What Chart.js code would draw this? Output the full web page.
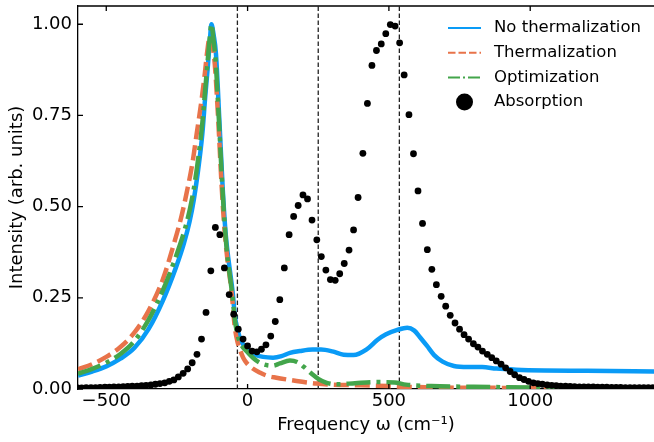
<!DOCTYPE html>
<html>
<head>
<meta charset="utf-8">
<script src="https://cdn.jsdelivr.net/npm/chart.js@4.4.0/dist/chart.umd.min.js"></script>
<style>
html, body { margin: 0; padding: 0; background: #fff; overflow: hidden; }
</style>
</head>
<body>
<canvas id="myChart" width="654" height="442"></canvas>
<script>
// tick labels
const xTicks = [-500, 0, 500, 1000];
const yTicks = [0, 0.25, 0.5, 0.75, 1.0];

// dashed guide lines (cm-1)
const guideLines = [-36, 250, 537];

// No thermalization
const noThermFreq = [-600, -550, -500, -450, -400, -350, -300, -255, -225, -205, -190, -175, -160, -150, -140, -133, -128,
  -120, -112, -100, -88, -78, -70, -60, -52, -45, -36, -25, -12, 0, 15, 30, 55, 90, 120, 150, 185, 230, 260, 300,
  340, 375, 420, 460, 490, 530, 565, 590, 610, 635, 660, 690, 730, 780, 830, 880, 950, 1050, 1200, 1440];
const noThermInt = [0.037, 0.048, 0.062, 0.083, 0.113, 0.165, 0.242, 0.33, 0.40, 0.46, 0.52, 0.60, 0.70, 0.80, 0.89, 0.96, 1.0,
  0.97, 0.92, 0.74, 0.55, 0.43, 0.37, 0.31, 0.26, 0.20, 0.165, 0.135, 0.118, 0.108, 0.099, 0.093, 0.088, 0.086, 0.090, 0.099, 0.104, 0.108, 0.108, 0.103,
  0.094, 0.093, 0.108, 0.135, 0.150, 0.162, 0.168, 0.160, 0.142, 0.118, 0.093, 0.075, 0.063, 0.060, 0.060, 0.056, 0.053, 0.051, 0.050, 0.048];

// Thermalization
const thermFreq = [-600, -550, -500, -450, -400, -350, -300, -260, -235, -215, -195, -180, -165, -152, -142, -134,
  -126, -116, -104, -92, -82, -72, -62, -54, -46, -36, -28, -15, -4, 15, 43, 70, 102, 140, 173, 210, 244, 300,
  400, 500, 560, 700, 900, 1100, 1440];
const thermInt = [0.054, 0.068, 0.088, 0.115, 0.155, 0.215, 0.30, 0.40, 0.47, 0.54, 0.62, 0.70, 0.78, 0.86, 0.93, 0.965,
  0.95, 0.89, 0.74, 0.56, 0.44, 0.36, 0.30, 0.245, 0.175, 0.13, 0.11, 0.085, 0.072, 0.058, 0.045, 0.036, 0.031, 0.026, 0.022, 0.018, 0.015, 0.012,
  0.010, 0.008, 0.006, 0.004, 0.003, 0.002, 0.001];

// Optimization
const optFreq = [-600, -550, -500, -450, -400, -350, -300, -255, -225, -205, -190, -175, -160, -150, -140, -133, -128,
  -121, -113, -101, -89, -79, -71, -61, -53, -45, -36, -25, -4, 20, 43, 70, 90, 114, 150, 175, 200, 225, 250, 280,
  320, 380, 450, 520, 560, 650, 800, 1000, 1200, 1440];
const optInt = [0.042, 0.055, 0.072, 0.096, 0.132, 0.19, 0.27, 0.36, 0.43, 0.49, 0.55, 0.63, 0.73, 0.82, 0.91, 0.97, 1.0,
  0.96, 0.90, 0.73, 0.55, 0.43, 0.36, 0.30, 0.25, 0.19, 0.15, 0.125, 0.104, 0.085, 0.072, 0.065, 0.064, 0.070, 0.078, 0.074, 0.060, 0.043, 0.028, 0.017,
  0.013, 0.016, 0.019, 0.018, 0.012, 0.008, 0.006, 0.004, 0.002, 0.001];

// Absorption
const absFreq = [-603, -587, -571, -554, -538, -522, -505, -489, -473, -456, -440, -424, -408, -391, -375, -359, -342, -326, -310, -293,
  -277, -261, -245, -228, -212, -196, -179, -163, -147, -130, -114, -98, -82, -65, -49, -33, -16,
  0, 16, 33, 49, 65, 82, 98, 114, 130, 147, 163, 179, 196, 212, 228, 245, 261, 277, 293, 310, 326, 342, 359, 375,
  391, 408, 424, 440, 456, 473, 489, 505, 522, 538, 554, 571, 587, 603, 619, 636, 652, 668, 685, 701, 717, 734,
  750, 766, 782, 799, 815, 831, 848, 864, 880, 897, 913, 929, 945, 962, 978, 994, 1011, 1027, 1043, 1060, 1076,
  1092, 1108, 1125, 1141, 1157, 1174, 1190, 1206, 1223, 1239, 1255, 1271, 1288, 1304, 1320, 1337, 1353, 1369,
  1386, 1402, 1418, 1434];
const absInt = [0.003, 0.003, 0.0035, 0.004, 0.004, 0.0045, 0.005, 0.005, 0.0055, 0.006, 0.0065, 0.007, 0.0075, 0.008, 0.009, 0.010, 0.011, 0.013, 0.015, 0.017,
  0.021, 0.025, 0.033, 0.043, 0.055, 0.072, 0.095, 0.137, 0.210, 0.324, 0.443, 0.423, 0.332, 0.259, 0.205, 0.164, 0.137,
  0.118, 0.104, 0.102, 0.109, 0.121, 0.145, 0.185, 0.245, 0.332, 0.423, 0.473, 0.503, 0.532, 0.521, 0.463, 0.409, 0.363, 0.326, 0.300, 0.298, 0.316, 0.344, 0.381, 0.436,
  0.525, 0.646, 0.783, 0.887, 0.928, 0.946, 0.974, 0.999, 0.995, 0.949, 0.861, 0.752, 0.645, 0.543, 0.454, 0.382, 0.328, 0.286, 0.254, 0.227, 0.202, 0.181,
  0.164, 0.149, 0.137, 0.124, 0.115, 0.104, 0.095, 0.086, 0.077, 0.068, 0.058, 0.048, 0.039, 0.031, 0.026, 0.021, 0.017, 0.015, 0.013, 0.011,
  0.010, 0.009, 0.008, 0.0075, 0.007, 0.0065, 0.006, 0.006, 0.0055, 0.0055, 0.005, 0.005, 0.005, 0.0045, 0.0045, 0.0045, 0.004, 0.004,
  0.004, 0.004, 0.0035, 0.0035, 0.0035];

Chart.defaults.font.family = "DejaVu Sans";
Chart.defaults.color = "#000";

function toPoints(xs, ys){
    let pts = [];
    for (let i = 0; i < xs.length; i++){
        pts.push({x: xs[i], y: ys[i]});
    }
    return pts;
}

let datasets = [
    {
        label: 'No thermalization',
        data: toPoints(noThermFreq, noThermInt),
        borderColor: '#0A9BF6',
        borderWidth: 4.5,
        pointRadius: 0,
        cubicInterpolationMode: 'monotone',
        order: 3,
    },
    {
        label: 'Thermalization',
        data: toPoints(thermFreq, thermInt),
        borderColor: '#E8734A',
        borderWidth: 4.5,
        borderDash: [15, 6],
        pointRadius: 0,
        cubicInterpolationMode: 'monotone',
        order: 2,
    },
    {
        label: 'Optimization',
        data: toPoints(optFreq, optInt),
        borderColor: '#43A54B',
        borderWidth: 4.5,
        borderDash: [24, 6, 4, 6],
        pointRadius: 0,
        cubicInterpolationMode: 'monotone',
        order: 1,
    },
    {
        label: 'Absorption',
        data: toPoints(absFreq, absInt),
        showLine: false,
        pointRadius: 3.4,
        pointBackgroundColor: '#000',
        pointBorderWidth: 0,
        order: 0,
    },
];

for (let i = 0; i < guideLines.length; i++){
    datasets.push({
        label: 'guide',
        data: [{x: guideLines[i], y: 0}, {x: guideLines[i], y: 1.05}],
        borderColor: '#222',
        borderWidth: 1.3,
        borderDash: [4.5, 2.5],
        pointRadius: 0,
        order: 5,
    });
}

// inward ticks + top spine
const frameTicks = {
    id: 'frameTicks',
    afterDraw(chart){
        const ctx = chart.ctx;
        const a = chart.chartArea;
        const xs = chart.scales.x, ys = chart.scales.y;
        ctx.save();
        ctx.strokeStyle = '#000';
        ctx.lineWidth = 1.3;
        ctx.beginPath();
        ctx.moveTo(a.left, a.top);
        ctx.lineTo(a.right + 2, a.top);
        for (let v of xTicks){
            let px = xs.getPixelForValue(v);
            ctx.moveTo(px, a.bottom); ctx.lineTo(px, a.bottom - 5);
            ctx.moveTo(px, a.top); ctx.lineTo(px, a.top + 5);
        }
        for (let v of yTicks){
            let py = ys.getPixelForValue(v);
            ctx.moveTo(a.left, py); ctx.lineTo(a.left + 5, py);
        }
        ctx.stroke();
        ctx.restore();
    }
};

// legend drawn inside the plot, top right
const innerLegend = {
    id: 'innerLegend',
    afterDraw(chart){
        const ctx = chart.ctx;
        const a = chart.chartArea;
        let x0 = a.right - 206;
        let y0 = a.top + 22;
        ctx.save();
        ctx.font = '16.5px "DejaVu Sans"';
        ctx.textBaseline = 'middle';
        ctx.fillStyle = '#000';
        for (let i = 0; i < 4; i++){
            let ds = chart.data.datasets[i];
            let y = y0 + i * 24.7;
            if (ds.showLine === false){
                ctx.beginPath();
                ctx.arc(x0 + 16.5, y, 8.5, 0, Math.PI * 2);
                ctx.fillStyle = '#000';
                ctx.fill();
            } else {
                ctx.beginPath();
                ctx.strokeStyle = ds.borderColor;
                ctx.lineWidth = 2;
                ctx.setLineDash(ds.borderDash ? ds.borderDash.map(d => d / 2) : []);
                ctx.moveTo(x0, y);
                ctx.lineTo(x0 + 33, y);
                ctx.stroke();
                ctx.setLineDash([]);
            }
            ctx.fillStyle = '#000';
            ctx.fillText(ds.label, x0 + 46, y);
        }
        ctx.restore();
    }
};

const ctx = document.getElementById('myChart').getContext('2d');
const myChart = new Chart(ctx, {
    type: 'line',
    data: { datasets: datasets },
    plugins: [frameTicks, innerLegend],
    options: {
        responsive: false,
        animation: false,
        devicePixelRatio: 1,
        layout: { autoPadding: false, padding: { top: 6, right: 0, bottom: 0, left: 0 } },
        plugins: {
            legend: { display: false },
            tooltip: { enabled: false },
        },
        scales: {
            x: {
                type: 'linear',
                min: -600,
                max: 1438,
                afterFit: (s) => { s.height = 53; s.paddingLeft = 0; s.paddingRight = 0; },
                afterBuildTicks: (s) => { s.ticks = xTicks.map(v => ({value: v})); },
                ticks: {
                    font: { size: 18 },
                    padding: 2,
                    maxRotation: 0,
                    callback: (v) => String(v).replace('-', '\u2212'),
                },
                grid: { display: false, drawTicks: false },
                border: { display: true, color: '#000', width: 1.3 },
                title: {
                    display: true,
                    text: 'Frequency ω (cm⁻¹)',
                    font: { size: 18 },
                    padding: { top: 0, bottom: 6 },
                },
            },
            y: {
                type: 'linear',
                min: 0,
                max: 1.05,
                afterFit: (s) => { s.width = 78; s.paddingTop = 0; s.paddingBottom = 0; },
                afterBuildTicks: (s) => { s.ticks = yTicks.map(v => ({value: v})); },
                ticks: {
                    font: { size: 18 },
                    padding: 6,
                    callback: (v) => v.toFixed(2),
                },
                grid: { display: false, drawTicks: false },
                border: { display: true, color: '#000', width: 1.3 },
                title: {
                    display: true,
                    text: 'Intensity (arb. units)',
                    font: { size: 18 },
                    padding: { top: 7, bottom: 0 },
                },
            },
        },
    },
});
</script>
</body>
</html>
